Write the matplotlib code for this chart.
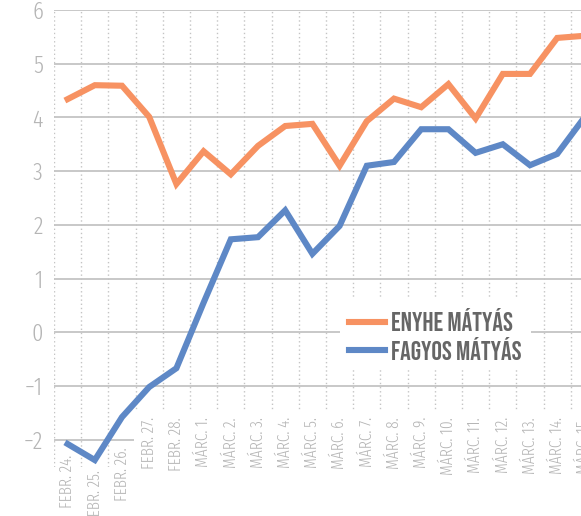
import numpy as np
import matplotlib
matplotlib.use("Agg")
import matplotlib.pyplot as plt
from matplotlib.patches import Rectangle

dates = ["Febr. 24.", "Febr. 25.", "Febr. 26.", "Febr. 27.", "Febr. 28.",
         "Márc. 1.", "Márc. 2.", "Márc. 3.", "Márc. 4.", "Márc. 5.",
         "Márc. 6.", "Márc. 7.", "Márc. 8.", "Márc. 9.", "Márc. 10.",
         "Márc. 11.", "Márc. 12.", "Márc. 13.", "Márc. 14.", "Márc. 15."]
enyhe = [4.34, 4.60, 4.59, 4.01, 2.76, 3.37, 2.94, 3.47, 3.84, 3.88,
         3.10, 3.93, 4.35, 4.19, 4.62, 3.98, 4.81, 4.81, 5.48, 5.52]
fagyos = [-2.08, -2.38, -1.58, -1.02, -0.67, 0.55, 1.73, 1.77, 2.27, 1.46,
          1.98, 3.10, 3.17, 3.78, 3.78, 3.34, 3.50, 3.11, 3.32, 4.00]
series_names = ["Enyhe Mátyás", "Fagyos Mátyás"]
yticks = [-2, -1, 0, 1, 2, 3, 4, 5, 6]

ORANGE = "#F79262"
BLUE = "#5E88C6"
GRID = "#c4c4c4"
TXT = "#b5b5b5"
THIN = ["Fira Sans Extra Condensed", "DejaVu Sans"]
BOLD = ["Bebas Neue", "DejaVu Sans"]

W, H = 581, 516
fig = plt.figure(figsize=(W / 100, H / 100), dpi=100)
left, top, bottom = 54 / W, 1 - 10 / H, 1 - 466.5 / H
ax = fig.add_axes([left, bottom, 544 / W, top - bottom])

x = np.arange(len(dates))
ax.set_xlim(-0.5, len(dates) - 0.5)
ax.set_ylim(-2.5, 6)

for s in ax.spines.values():
    s.set_visible(False)

ax.set_axisbelow(True)
ax.set_yticks(yticks)
ax.set_yticklabels([str(v).replace("-", "\u2212") for v in yticks],
                   family=THIN, fontweight=300, fontsize=17.5, color=TXT)
ax.set_xticks(np.arange(-0.5, len(dates)))
ax.set_xticklabels([])
ax.tick_params(length=0, pad=8)
ax.grid(axis="y", color=GRID, lw=1.3, ls="-")
ax.grid(axis="x", color=GRID, lw=1.0, ls=(0, (1, 2)))

# white band hiding grid under the category labels
ax.add_patch(Rectangle((2.43, -2.5), 20, 1.03, facecolor="white",
                       edgecolor="none", zorder=1))

l1, = ax.plot(x, enyhe, color=ORANGE, lw=4.4, solid_joinstyle="miter",
              label=series_names[0].upper(), zorder=3)
l2, = ax.plot(x, fagyos, color=BLUE, lw=4.4, solid_joinstyle="miter",
              label=series_names[1].upper(), zorder=3)

label_top = [-2.28, -2.56, -2.14] + [-1.58] * (len(dates) - 3)
for xi, lab, yt in zip(x, dates, label_top):
    ax.text(xi, yt, lab.upper(), rotation=90, ha="center", va="top",
            family=THIN, fontweight=300, fontsize=12, color=TXT,
            clip_on=False, zorder=4)

leg = ax.legend(handles=[l1, l2], loc="upper left",
                bbox_to_anchor=(340 / W, 1 - 299 / H),
                bbox_transform=fig.transFigure,
                prop=dict(family=BOLD, size=19),
                labelcolor="#666666", frameon=True, fancybox=False,
                handlelength=1.35, handletextpad=0.25, labelspacing=0.2,
                borderpad=0.35, borderaxespad=0)
leg.get_frame().set_facecolor("white")
leg.get_frame().set_edgecolor("none")
leg.get_frame().set_alpha(1)

fig.savefig("out.png", dpi=100)
